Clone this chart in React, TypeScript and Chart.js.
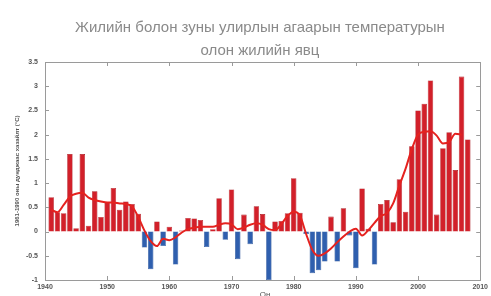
import React, { useEffect, useRef } from "react";
import { Chart, registerables } from "chart.js";

Chart.register(...registerables);

const TITLE_LINES = ["Жилийн болон зуны улирлын агаарын температурын", "олон жилийн явц"];
const Y_TITLE = "1961-1990 оны дунджаас хазайлт (°C)";
const X_TITLE = "Он";

const YEARS = [
  1941, 1942, 1943, 1944, 1945, 1946, 1947, 1948, 1949, 1950,
  1951, 1952, 1953, 1954, 1955, 1956, 1957, 1958, 1959, 1960,
  1961, 1962, 1963, 1964, 1965, 1966, 1967, 1968, 1969, 1970,
  1971, 1972, 1973, 1974, 1975, 1976, 1977, 1978, 1979, 1980,
  1981, 1982, 1983, 1984, 1985, 1986, 1987, 1988, 1989, 1990,
  1991, 1992, 1993, 1994, 1995, 1996, 1997, 1998, 1999, 2000,
  2001, 2002, 2003, 2004, 2005, 2006, 2007, 2008,
];

const ANOMALY = [
  0.71, 0.40, 0.38, 1.60, 0.07, 1.60, 0.12, 0.83, 0.30, 0.60,
  0.90, 0.45, 0.62, 0.57, 0.37, -0.33, -0.78, 0.21, -0.30, 0.10,
  -0.68, 0.02, 0.28, 0.27, 0.24, -0.32, 0.05, 0.69, -0.17, 0.87,
  -0.57, 0.35, -0.26, 0.52, 0.36, -1.00, 0.21, 0.22, 0.38, 1.10,
  0.39, -0.05, -0.86, -0.80, -0.62, 0.31, -0.62, 0.48, -0.08, -0.76,
  0.89, 0.06, -0.68, 0.57, 0.65, 0.19, 1.08, 0.41, 1.76, 2.50,
  2.64, 3.12, 0.35, 1.72, 2.05, 1.27, 3.20, 1.90,
];

const SMOOTH_YEARS = [
  1941, 1942, 1943, 1944, 1945, 1946, 1947, 1948, 1949, 1950,
  1951, 1952, 1953, 1954, 1955, 1956, 1957, 1958, 1959, 1960,
  1961, 1962, 1963, 1964, 1965, 1966, 1967, 1968, 1969, 1970,
  1971, 1972, 1973, 1974, 1975, 1976, 1977, 1978, 1979, 1980,
  1981, 1982, 1983, 1984, 1985, 1986, 1987, 1988, 1989, 1990,
  1991, 1992, 1993, 1994, 1995, 1996, 1997, 1998, 1999, 2000,
  2001, 2002, 2003, 2004, 2005, 2006, 2007,
];

const SMOOTH = [
  0.45, 0.40, 0.55, 0.72, 0.78, 0.80, 0.70, 0.65, 0.62, 0.60,
  0.60, 0.58, 0.57, 0.52, 0.30, 0.02, -0.20, -0.30, -0.15, -0.18,
  -0.12, -0.02, 0.05, 0.08, 0.10, 0.10, 0.10, 0.14, 0.17, 0.15,
  0.05, 0.08, 0.14, 0.17, 0.14, 0.05, 0.03, 0.15, 0.32, 0.41,
  0.33, -0.05, -0.38, -0.50, -0.45, -0.35, -0.22, -0.10, 0.00, 0.06,
  -0.08, 0.03, 0.18, 0.32, 0.38, 0.58, 0.95, 1.30, 1.70, 2.00,
  2.06, 2.07, 1.98, 1.82, 1.85, 2.02, 2.00,
];

const X_TICKS = [1940, 1950, 1960, 1970, 1980, 1990, 2000, 2010];
const Y_TICKS = [-1, -0.5, 0, 0.5, 1, 1.5, 2, 2.5, 3, 3.5];
const Y_TICK_LABELS = ["-1", "-0.5", "0", "0.5", "1", "1.5", "2", "2.5", "3", "3.5"];

const RED = "#d2202a";
const RED_EDGE = "#a8151c";
const BLUE = "#2f5fae";
const BLUE_EDGE = "#1f4a92";
const LINE_RED = "#e5221f";
const AXIS = "#9a9a9a";

export default function App() {
  const ref = useRef<HTMLCanvasElement | null>(null);

  useEffect(() => {
    document.body.style.margin = "0";
    const canvas = ref.current;
    if (!canvas) return;

    const frame = {
      id: "frame",
      afterDraw(chart: any) {
        const { ctx, chartArea } = chart;
        const xs = chart.scales.x;
        const ys = chart.scales.y;
        ctx.save();
        ctx.strokeStyle = AXIS;
        ctx.lineWidth = 1;
        ctx.strokeRect(
          Math.round(chartArea.left) + 0.5,
          Math.round(chartArea.top) + 0.5,
          Math.round(chartArea.right - chartArea.left),
          Math.round(chartArea.bottom - chartArea.top)
        );
        ctx.beginPath();
        X_TICKS.forEach((v) => {
          const px = Math.round(xs.getPixelForValue(v)) + 0.5;
          ctx.moveTo(px, chartArea.bottom);
          ctx.lineTo(px, chartArea.bottom - 4);
          ctx.moveTo(px, chartArea.top);
          ctx.lineTo(px, chartArea.top + 4);
        });
        Y_TICKS.forEach((v) => {
          const py = Math.round(ys.getPixelForValue(v)) + 0.5;
          ctx.moveTo(chartArea.left, py);
          ctx.lineTo(chartArea.left + 4, py);
          ctx.moveTo(chartArea.right, py);
          ctx.lineTo(chartArea.right - 4, py);
        });
        ctx.stroke();
        ctx.restore();
      },
    };

    const chart = new Chart(canvas, {
      type: "bar",
      data: {
        datasets: [
          {
            type: "line",
            data: SMOOTH_YEARS.map((x, i) => ({ x, y: SMOOTH[i] })),
            borderColor: LINE_RED,
            borderWidth: 2,
            pointRadius: 0,
            cubicInterpolationMode: "monotone",
            order: 0,
          } as any,
          {
            type: "bar",
            data: YEARS.map((x, i) => ({ x, y: ANOMALY[i] })),
            backgroundColor: ANOMALY.map((v) => (v >= 0 ? RED : BLUE)),
            borderColor: ANOMALY.map((v) => (v >= 0 ? RED_EDGE : BLUE_EDGE)),
            borderWidth: 0.6,
            barPercentage: 0.88,
            categoryPercentage: 1,
            order: 1,
          } as any,
        ],
      },
      options: {
        responsive: false,
        animation: false,
        layout: { padding: { top: 62, right: 9, left: 0, bottom: 0 } },
        plugins: {
          legend: { display: false },
          tooltip: { enabled: false },
          title: { display: false },
        },
        scales: {
          x: {
            type: "linear",
            offset: false,
            min: 1940,
            max: 2010,
            afterBuildTicks: (s: any) => {
              s.ticks = X_TICKS.map((v) => ({ value: v }));
            },
            ticks: {
              autoSkip: false,
              maxRotation: 0,
              padding: 3,
              color: "#555",
              font: { family: "Liberation Sans", size: 7, weight: "bold" },
              callback: (v: any) => String(v),
            },
            grid: { display: false, drawTicks: false, offset: false },
            border: { display: false },
            afterFit: (s: any) => {
              s.height = 16;
            },
          },
          y: {
            type: "linear",
            min: -1,
            max: 3.5,
            afterBuildTicks: (s: any) => {
              s.ticks = Y_TICKS.map((v) => ({ value: v }));
            },
            ticks: {
              autoSkip: false,
              padding: 7,
              color: "#555",
              font: { family: "Liberation Sans", size: 7, weight: "bold" },
              callback: (v: any) => {
                const i = Y_TICKS.indexOf(Number(v));
                return i >= 0 ? Y_TICK_LABELS[i] : "";
              },
            },
            grid: { display: false, drawTicks: false },
            border: { display: false },
            title: {
              display: true,
              text: Y_TITLE,
              color: "#555",
              font: { family: "Liberation Sans", size: 6, weight: "bold" },
              padding: { top: 14, bottom: 0 },
            },
            afterFit: (s: any) => {
              s.width = 45;
            },
          },
        },
      } as any,
      plugins: [frame],
    });

    return () => chart.destroy();
  }, []);

  return (
    <div style={{ position: "relative", width: 491, height: 296, overflow: "hidden", background: "#fff" }}>
      <canvas ref={ref} width={491} height={296} style={{ display: "block", width: 491, height: 296 }} />
      <div
        style={{
          position: "absolute",
          left: 0,
          width: 520,
          top: 15,
          textAlign: "center",
          fontFamily: "Liberation Sans, Arial, sans-serif",
          fontSize: 15,
          color: "#8a8a8a",
          lineHeight: "23px",
          whiteSpace: "nowrap",
        }}
      >
        <div>{TITLE_LINES[0]}</div>
        <div>{TITLE_LINES[1]}</div>
      </div>
      <div
        style={{
          position: "absolute",
          left: 250,
          width: 30,
          top: 290,
          textAlign: "center",
          fontFamily: "Liberation Sans, Arial, sans-serif",
          fontSize: 8,
          color: "#555",
        }}
      >
        {X_TITLE}
      </div>
    </div>
  );
}
